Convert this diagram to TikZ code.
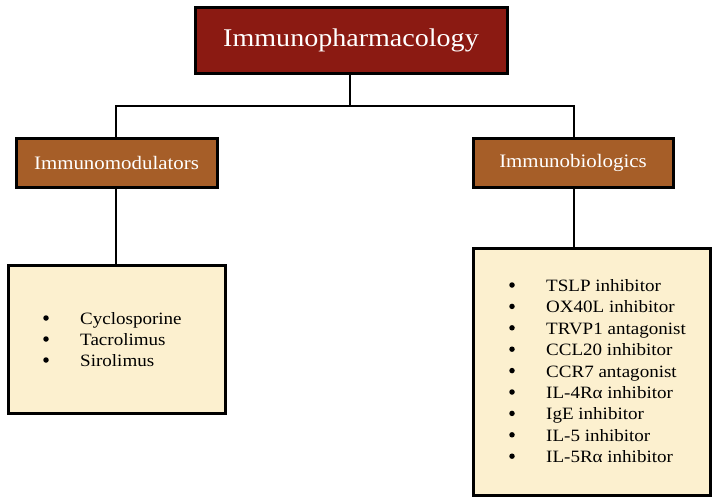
\documentclass[tikz,border=0pt]{standalone}
\usepackage{fontspec}
\setmainfont[FakeStretch=1.1]{Liberation Serif}
\begin{document}
\begin{tikzpicture}[x=1pt,y=-1pt,
  box/.style={draw=black,line width=3pt,inner sep=0pt,anchor=center},
  topbox/.style={box,fill=topred,text=white,font=\fontsize{25.5}{30}\selectfont},
  midbox/.style={box,fill=midbrown,text=white,font=\fontsize{19}{22}\selectfont},
  listbox/.style={box,fill=listcream},
  conn/.style={line width=2.5pt},
  bul/.style={circle,fill=black,inner sep=0pt,minimum size=5.5pt},
  item/.style={inner sep=0pt,anchor=base west,font=\fontsize{17.3}{20}\selectfont}]
\definecolor{topred}{HTML}{8B1A12}
\definecolor{midbrown}{HTML}{A65E28}
\definecolor{listcream}{HTML}{FCF0CF}
\useasboundingbox (0,0) rectangle (716,501);
\node[topbox,minimum width=312pt,minimum height=66pt] (top) at (351,40) {Immunopharmacology};
\node[midbox,minimum width=201pt,minimum height=49pt] (lm) at (116.5,162.5) {Immunomodulators};
\node[midbox,minimum width=200pt,minimum height=49pt] (rm) at (573,162.5) {Immunobiologics};
\node[listbox,minimum width=217pt,minimum height=148pt] (lb) at (116.5,339) {};
\node[listbox,minimum width=237pt,minimum height=247pt] (rb) at (591.5,371.5) {};
\coordinate (j) at (350,106);
\coordinate (jl) at (116,106);
\coordinate (jr) at (574,106);
\draw[conn] (top.south -| j) -- (j);
\draw[conn,line cap=rect] (jl) -- (jr);
\draw[conn] (jl) -- (jl |- lm.north);
\draw[conn] (jr) -- (jr |- rm.north);
\draw[conn] (lm.south -| jl) -- (jl |- lb.north);
\draw[conn] (rm.south -| jr) -- (jr |- rb.north);
\foreach \t [count=\i] in {Cyclosporine,Tacrolimus,Sirolimus}{
  \node[bul] (lbu\i) at (46,{318+(\i-1)*21}) {};
  \node[item] (lit\i) at (80,{318+(\i-1)*21+6.5}) {\t};
}
\foreach \t [count=\i] in {TSLP inhibitor,OX40L inhibitor,TRVP1 antagonist,CCL20 inhibitor,CCR7 antagonist,IL-4Rα inhibitor,IgE inhibitor,IL-5 inhibitor,IL-5Rα inhibitor}{
  \node[bul] (rbu\i) at (512,{285+(\i-1)*21.4}) {};
  \node[item] (rit\i) at (546,{285+(\i-1)*21.4+6.5}) {\t};
}
\end{tikzpicture}
\end{document}
